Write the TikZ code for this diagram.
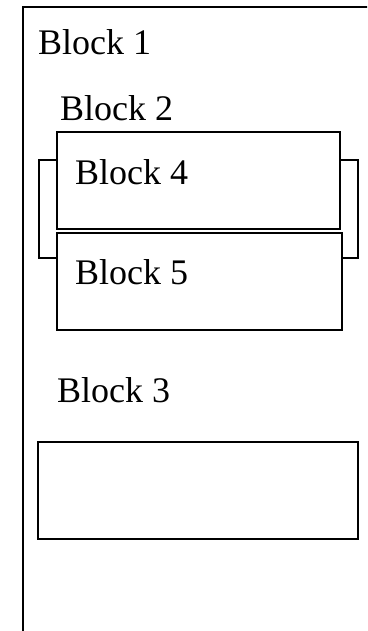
\documentclass[tikz,border=0pt]{standalone}
\usepackage{fontspec}
\setmainfont{Liberation Serif}
\begin{document}
\begin{tikzpicture}[x=1pt,y=-1pt,
  box/.style={draw=black,fill=white,line width=2pt,inner sep=0pt,anchor=north west},
  lbl/.style={anchor=base west,inner sep=0pt,font=\fontsize{36}{40}\selectfont}]
\useasboundingbox (0,0) rectangle (367,631);
\clip (0,0) rectangle (367,631);
\fill[white] (0,0) rectangle (367,631);
% Block 1 (outer, extends beyond the picture)
\node[box,minimum width=380pt,minimum height=660pt] (b1) at (22,6) {};
\node[lbl] (t1) at (38,55) {Block 1};
% Block 2
\node[lbl] (t2) at (60,121) {Block 2};
\node[box,minimum width=319.5pt,minimum height=98pt] (b2) at (37.5,159) {};
% Block 4
\node[box,minimum width=283pt,minimum height=97pt] (b4) at (56,131) {};
\node[lbl] (t4) at (75,185) {Block 4};
% Block 5
\node[box,minimum width=285pt,minimum height=97pt] (b5) at (56,232) {};
\node[lbl] (t5) at (75,284) {Block 5};
% Block 3
\node[lbl] (t3) at (57,402) {Block 3};
\node[box,minimum width=320pt,minimum height=97pt] (b3) at (37,441) {};
\end{tikzpicture}
\end{document}
